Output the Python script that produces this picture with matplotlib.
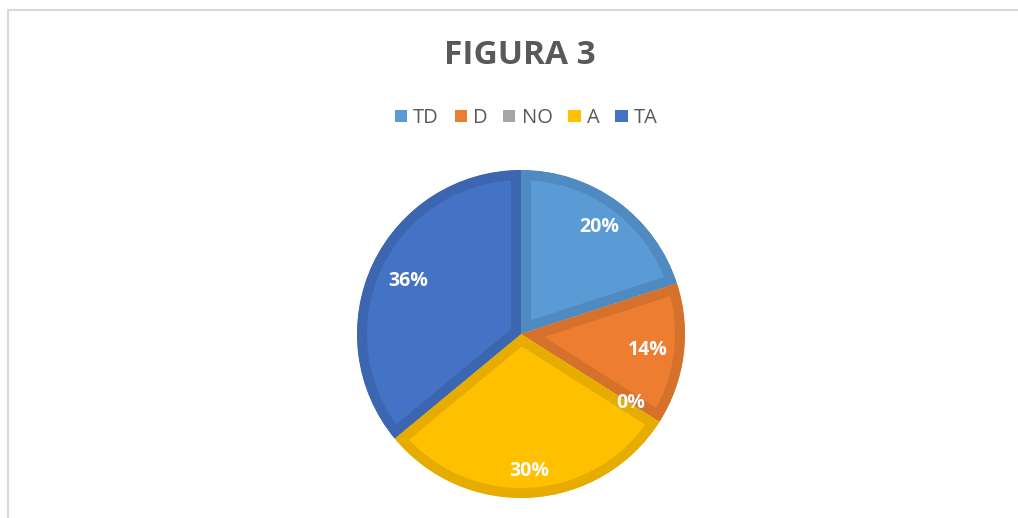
import matplotlib
matplotlib.use("Agg")
import matplotlib.pyplot as plt
from matplotlib.lines import Line2D
from matplotlib.patches import Rectangle
import numpy as np

categories = ["TD", "D", "NO", "A", "TA"]
values = [20, 14, 0, 30, 36]
pct_labels = ["20%", "14%", "0%", "30%", "36%"]
title = "FIGURA 3"

fills = ["#5B9BD5", "#ED7D31", "#A5A5A5", "#FFC000", "#4472C4"]
edges = ["#4F8AC0", "#D6712C", "#959595", "#E6AD00", "#3D66B1"]
label_dist = [0.81, 0.78, 0.79, 0.84, 0.76]

W, H = 1018, 518
dpi = 100
fig = plt.figure(figsize=(W / dpi, H / dpi), dpi=dpi)
fig.patch.set_facecolor("white")

# frame (left and top edges visible)
fig.add_artist(Line2D([8 / W, 8 / W, 1.0], [0.0, 1 - 10 / H, 1 - 10 / H],
                      transform=fig.transFigure, color="#D9D9D9", lw=1.5))

cx, cy, r = 521, 334, 164
ax = fig.add_axes([(cx - r) / W, (H - cy - r) / H, 2 * r / W, 2 * r / H])

wedges, _ = ax.pie(values, colors=fills, startangle=90, counterclock=False,
                   radius=1.0, wedgeprops=dict(linewidth=0))
ax.set_xlim(-1, 1)
ax.set_ylim(-1, 1)
ax.set_aspect("equal")
ax.axis("off")

bw = 20 * 72 / dpi
for w, ec in zip(wedges, edges):
    w.set_edgecolor(ec)
    w.set_linewidth(bw)
    w.set_joinstyle("miter")
    w.set_clip_on(True)
    w.set_clip_path(w.get_path(), w.get_transform())

for w, lab, d in zip(wedges, pct_labels, label_dist):
    ang = np.deg2rad((w.theta1 + w.theta2) / 2)
    ax.text(d * np.cos(ang), d * np.sin(ang), lab, ha="center", va="center",
            color="white", fontsize=14, fontweight="bold", family="Open Sans")

fig.text(520 / W, 1 - 55 / H, title, ha="center", va="center",
         fontsize=24, fontweight="bold", color="#595959", family="Open Sans")

handles = [Rectangle((0, 0), 1, 1, facecolor=c, edgecolor="none") for c in fills]
leg = fig.legend(handles, categories, loc="center", bbox_to_anchor=(526 / W, 1 - 118 / H),
                 ncol=5, frameon=False, handlelength=0.6, handleheight=0.6,
                 handletextpad=0.3, columnspacing=0.8,
                 prop=dict(family="Open Sans", size=14.5))
for t in leg.get_texts():
    t.set_color("#595959")

fig.savefig("out.png", dpi=dpi, facecolor="white")
